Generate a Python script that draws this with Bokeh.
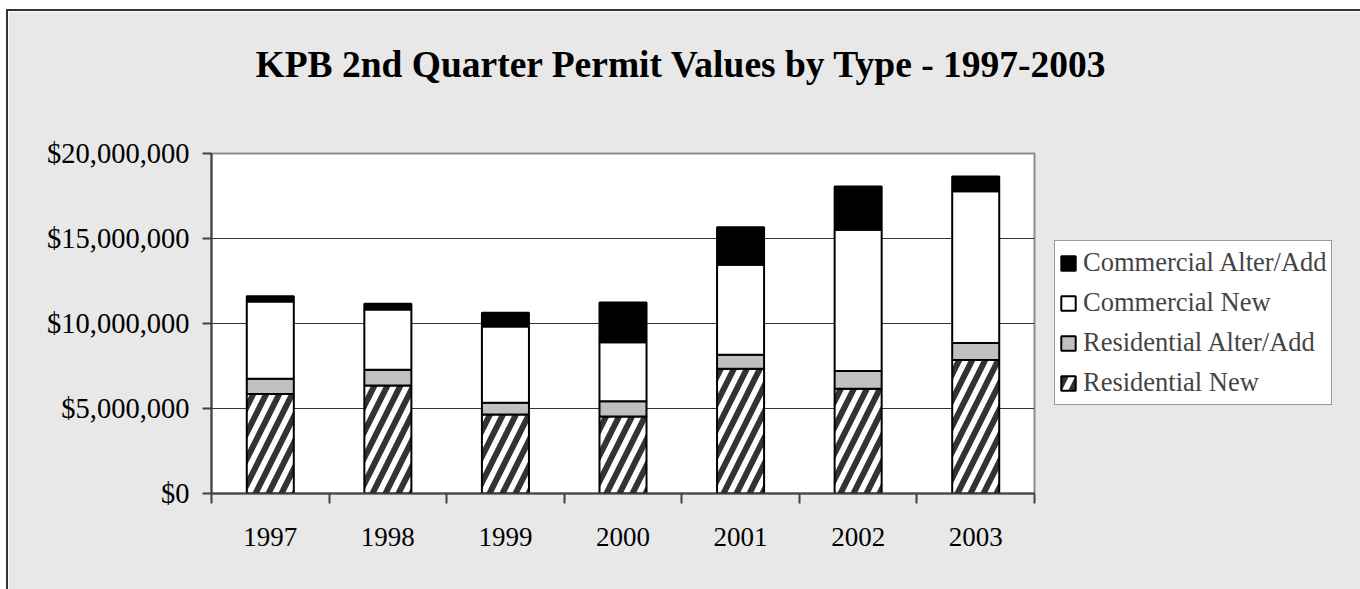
from bokeh.plotting import figure
from bokeh.models import (ColumnDataSource, FixedTicker, NumeralTickFormatter,
                          Legend, LegendItem, Title)
from bokeh.embed import file_html
from bokeh.resources import INLINE

years = [1997, 1998, 1999, 2000, 2001, 2002, 2003]
res_new = [5860000, 6350000, 4650000, 4530000, 7340000, 6160000, 7860000]
res_alter = [890000, 930000, 690000, 900000, 820000, 1040000, 1000000]
com_new = [4550000, 3540000, 4480000, 3470000, 5290000, 8310000, 8920000]
com_alter = [300000, 340000, 810000, 2340000, 2210000, 2550000, 870000]
y_ticks = [0, 5000000, 10000000, 15000000, 20000000]
series_names = ["Residential New", "Residential Alter/Add", "Commercial New", "Commercial Alter/Add"]
chart_title = "KPB 2nd Quarter Permit Values by Type - 1997-2003"

source = ColumnDataSource(dict(year=years, rn=res_new, ra=res_alter, cn=com_new, ca=com_alter))

FONT = "Liberation Serif"
BG = "#E8E8E8"

p = figure(width=1349, height=578, output_backend="svg", toolbar_location=None, title=None,
           x_range=(min(years) - 0.5, max(years) + 0.5), y_range=(0, 20000000),
           frame_width=823, frame_height=340,
           min_border_left=203, min_border_top=142, min_border_right=323, min_border_bottom=96,
           background_fill_color="white", border_fill_color=BG,
           outline_line_color="#8c8c8c", outline_line_width=2,
           styles={"margin-left": "6px", "margin-top": "9px",
                   "border-left": "2px solid #333333", "border-top": "2px solid #333333",
                   "border-right": "2px solid #333333"})

# spacer between plot area and title (drawn in the background colour)
spacer = Title(text=".", text_font_size="2px", text_color=BG, standoff=66)
p.add_layout(spacer, "above")

# main title, stacked above the spacer
main_title = Title(text=chart_title, text_font=FONT, text_font_size="37.5px",
                   text_font_style="bold", text_color="black", align="left",
                   offset=44, standoff=0)
p.add_layout(main_title, "above")

renderers = p.vbar_stack(["rn", "ra", "cn", "ca"], x="year", width=0.4, source=source,
                         fill_color=["white", "#C0C0C0", "white", "black"],
                         line_color="black", line_width=2,
                         hatch_pattern=["/", " ", " ", " "],
                         hatch_color="#333333", hatch_scale=26, hatch_weight=6)

# axes
p.xaxis.ticker = FixedTicker(ticks=years, minor_ticks=[y - 0.5 for y in years] + [max(years) + 0.5])
p.xaxis.formatter = NumeralTickFormatter(format="0")
p.xaxis.major_tick_line_color = None
p.xaxis.major_tick_out = 0
p.xaxis.major_tick_in = 0
p.xaxis.minor_tick_out = 10
p.xaxis.minor_tick_in = 0
p.xaxis.minor_tick_line_color = "#404040"
p.xaxis.minor_tick_line_width = 2
p.xaxis.major_label_standoff = 24
p.xaxis.major_label_text_font_size = "27px"

p.yaxis.ticker = FixedTicker(ticks=y_ticks)
p.yaxis.formatter = NumeralTickFormatter(format="$0,0")
p.yaxis.major_tick_out = 9
p.yaxis.major_tick_in = 0
p.yaxis.minor_tick_line_color = None
p.yaxis.major_tick_line_color = "#404040"
p.yaxis.major_tick_line_width = 2
p.yaxis.major_label_standoff = 13
p.yaxis.major_label_text_font_size = "28.5px"

for ax in (p.xaxis, p.yaxis):
    ax.axis_line_color = "#404040"
    ax.axis_line_width = 2
    ax.major_label_text_font = FONT
    ax.major_label_text_color = "black"

p.xgrid.grid_line_color = None
p.ygrid.ticker = FixedTicker(ticks=y_ticks)
p.ygrid.grid_line_color = "#333333"
p.ygrid.grid_line_width = 1

items = [LegendItem(label=series_names[i], renderers=[renderers[i]]) for i in [3, 2, 1, 0]]
legend = Legend(items=items, location=(20, 88), orientation="vertical",
                label_text_font=FONT, label_text_font_size="26.5px",
                glyph_width=18, glyph_height=18, label_height=35, label_standoff=6,
                spacing=5, padding=4, margin=0,
                border_line_color="#333333", border_line_width=1.5,
                background_fill_color="white", background_fill_alpha=1)
p.add_layout(legend, "right")

open("out.html", "w").write(file_html(p, INLINE))
